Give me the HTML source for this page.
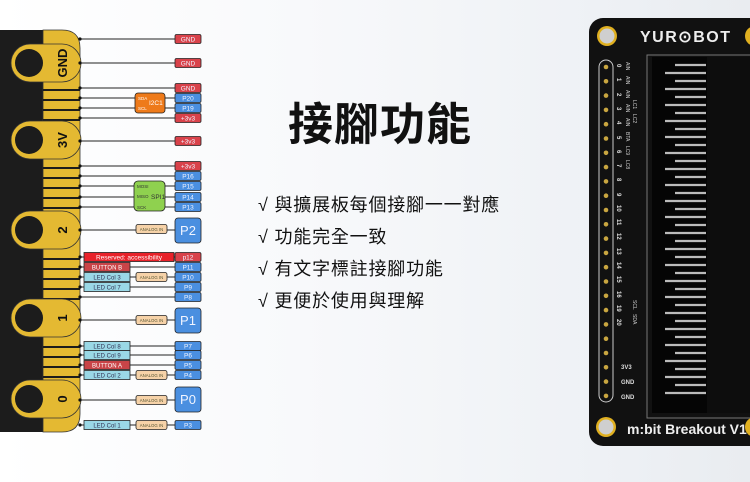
<!DOCTYPE html>
<html><head><meta charset="utf-8"><style>
html,body{margin:0;padding:0}
body{width:750px;height:482px;overflow:hidden;background:linear-gradient(90deg,#fff 0%,#f8f9fb 40%,#eef1f5 80%,#e9ecf0 100%);position:relative;font-family:"Liberation Sans","Noto Sans CJK TC",sans-serif}
.t{position:absolute;left:288px;top:88px;font-size:45px;font-weight:bold;color:#111;letter-spacing:1px;font-family:"Liberation Sans","Noto Sans CJK TC",sans-serif}
.l{position:absolute;left:258px;font-size:18px;letter-spacing:0.8px;color:#111;font-family:"Liberation Sans","Noto Sans CJK TC",sans-serif}
</style></head><body>
<svg width="750" height="482" style="position:absolute;left:0;top:0" font-family="Liberation Sans, sans-serif">
<path d="M0 30 H62 Q80 30 80 48 V414 Q80 432 62 432 H0 Z" fill="#1c1c1c"/>
<path d="M43 30 H62 Q80 30 80 48 V414 Q80 432 62 432 H43 Z" fill="#e4b932" stroke="#333" stroke-width="0.8"/>
<g fill="#1c1c1c">
<rect x="43" y="89" width="37" height="2"/><rect x="43" y="99" width="37" height="2"/><rect x="43" y="109" width="37" height="2"/><rect x="43" y="119" width="37" height="2"/>
<rect x="43" y="167" width="37" height="2"/><rect x="43" y="177" width="37" height="2"/><rect x="43" y="187" width="37" height="2"/><rect x="43" y="197" width="37" height="2"/><rect x="43" y="207" width="37" height="2"/>
<rect x="43" y="258" width="37" height="2"/><rect x="43" y="268" width="37" height="2"/><rect x="43" y="278" width="37" height="2"/><rect x="43" y="288" width="37" height="2"/><rect x="43" y="298" width="37" height="2"/>
<rect x="43" y="346" width="37" height="2"/><rect x="43" y="356" width="37" height="2"/><rect x="43" y="366" width="37" height="2"/><rect x="43" y="376" width="37" height="2"/>
</g>
<g fill="#e4b932" stroke="#333" stroke-width="0.8">
<rect x="11" y="44" width="70" height="38" rx="19"/>
<rect x="11" y="121" width="70" height="38" rx="19"/>
<rect x="11" y="211" width="70" height="38" rx="19"/>
<rect x="11" y="299" width="70" height="38" rx="19"/>
<rect x="11" y="380" width="70" height="38" rx="19"/>
</g>
<g fill="#1c1c1c">
<circle cx="29" cy="63" r="14"/><circle cx="29" cy="140" r="14"/><circle cx="29" cy="230" r="14"/><circle cx="29" cy="318" r="14"/><circle cx="29" cy="399" r="14"/>
</g>
<g font-weight="bold" font-size="13" fill="#111" text-anchor="middle">
<text transform="translate(67,63) rotate(-90)">GND</text>
<text transform="translate(67,140) rotate(-90)">3V</text>
<text transform="translate(67,230) rotate(-90)">2</text>
<text transform="translate(67,318) rotate(-90)">1</text>
<text transform="translate(67,399) rotate(-90)">0</text>
</g>
<g stroke="#222" stroke-width="0.9">
<line x1="80" y1="39" x2="176" y2="39"/><line x1="80" y1="63" x2="176" y2="63"/><line x1="80" y1="88" x2="176" y2="88"/>
<line x1="80" y1="98" x2="176" y2="98"/><line x1="80" y1="108" x2="176" y2="108"/><line x1="80" y1="118" x2="176" y2="118"/>
<line x1="80" y1="141" x2="176" y2="141"/><line x1="80" y1="166" x2="176" y2="166"/><line x1="80" y1="176" x2="176" y2="176"/>
<line x1="80" y1="186" x2="176" y2="186"/><line x1="80" y1="197" x2="176" y2="197"/><line x1="80" y1="207" x2="176" y2="207"/>
<line x1="80" y1="230" x2="176" y2="230"/><line x1="80" y1="257" x2="176" y2="257"/><line x1="80" y1="267" x2="176" y2="267"/>
<line x1="80" y1="277" x2="176" y2="277"/><line x1="80" y1="287" x2="176" y2="287"/><line x1="80" y1="297" x2="176" y2="297"/>
<line x1="80" y1="320" x2="176" y2="320"/><line x1="80" y1="346" x2="176" y2="346"/><line x1="80" y1="355" x2="176" y2="355"/>
<line x1="80" y1="365" x2="176" y2="365"/><line x1="80" y1="375" x2="176" y2="375"/><line x1="80" y1="400" x2="176" y2="400"/>
<line x1="80" y1="425" x2="176" y2="425"/>
</g>
<g fill="#111">
<circle cx="80" cy="39" r="1.6"/><circle cx="80" cy="63" r="1.6"/><circle cx="80" cy="88" r="1.6"/><circle cx="80" cy="98" r="1.6"/><circle cx="80" cy="108" r="1.6"/><circle cx="80" cy="118" r="1.6"/><circle cx="80" cy="141" r="1.6"/><circle cx="80" cy="166" r="1.6"/><circle cx="80" cy="176" r="1.6"/><circle cx="80" cy="186" r="1.6"/><circle cx="80" cy="197" r="1.6"/><circle cx="80" cy="207" r="1.6"/><circle cx="80" cy="230" r="1.6"/><circle cx="80" cy="257" r="1.6"/><circle cx="80" cy="267" r="1.6"/><circle cx="80" cy="277" r="1.6"/><circle cx="80" cy="287" r="1.6"/><circle cx="80" cy="297" r="1.6"/><circle cx="80" cy="320" r="1.6"/><circle cx="80" cy="346" r="1.6"/><circle cx="80" cy="355" r="1.6"/><circle cx="80" cy="365" r="1.6"/><circle cx="80" cy="375" r="1.6"/><circle cx="80" cy="400" r="1.6"/><circle cx="80" cy="425" r="1.6"/>
</g>
<g stroke="#222" stroke-width="0.8" font-size="6.5" text-anchor="middle">
<g fill="#d9424a"><rect x="175" y="34.5" width="26" height="9" rx="1.5"/><rect x="175" y="58.5" width="26" height="9" rx="1.5"/><rect x="175" y="83.5" width="26" height="9" rx="1.5"/><rect x="175" y="113.5" width="26" height="9" rx="1.5"/><rect x="175" y="136.5" width="26" height="9" rx="1.5"/><rect x="175" y="161.5" width="26" height="9" rx="1.5"/><rect x="175" y="252.5" width="26" height="9" rx="1.5"/></g>
<g fill="#4a8fe0"><rect x="175" y="93.5" width="26" height="9" rx="1.5"/><rect x="175" y="103.5" width="26" height="9" rx="1.5"/><rect x="175" y="171.5" width="26" height="9" rx="1.5"/><rect x="175" y="181.5" width="26" height="9" rx="1.5"/><rect x="175" y="192.5" width="26" height="9" rx="1.5"/><rect x="175" y="202.5" width="26" height="9" rx="1.5"/>
<rect x="175" y="262.5" width="26" height="9" rx="1.5"/><rect x="175" y="272.5" width="26" height="9" rx="1.5"/><rect x="175" y="282.5" width="26" height="9" rx="1.5"/><rect x="175" y="292.5" width="26" height="9" rx="1.5"/>
<rect x="175" y="341.5" width="26" height="9" rx="1.5"/><rect x="175" y="350.5" width="26" height="9" rx="1.5"/><rect x="175" y="360.5" width="26" height="9" rx="1.5"/><rect x="175" y="370.5" width="26" height="9" rx="1.5"/><rect x="175" y="420.5" width="26" height="9" rx="1.5"/>
<rect x="175" y="218" width="26" height="25" rx="3"/><rect x="175" y="308" width="26" height="25" rx="3"/><rect x="175" y="387" width="26" height="25" rx="3"/></g>
<g fill="#f0f4ff" stroke="none">
<text x="188" y="41.5">GND</text><text x="188" y="65.5">GND</text><text x="188" y="90.5">GND</text><text x="188" y="100.5">P20</text><text x="188" y="110.5">P19</text><text x="188" y="120.5">+3v3</text><text x="188" y="143.5">+3v3</text><text x="188" y="168.5">+3v3</text><text x="188" y="178.5">P16</text><text x="188" y="188.5">P15</text><text x="188" y="199.5">P14</text><text x="188" y="209.5">P13</text><text x="188" y="259.5">p12</text><text x="188" y="269.5">P11</text><text x="188" y="279.5">P10</text><text x="188" y="289.5">P9</text><text x="188" y="299.5">P8</text><text x="188" y="348.5">P7</text><text x="188" y="357.5">P6</text><text x="188" y="367.5">P5</text><text x="188" y="377.5">P4</text><text x="188" y="427.5">P3</text>
<text x="188" y="235" font-size="13">P2</text><text x="188" y="325" font-size="13">P1</text><text x="188" y="404" font-size="13">P0</text></g>
<rect x="135" y="93" width="30" height="20" rx="3" fill="#ee7a1a"/>
<rect x="134" y="181" width="31" height="30" rx="4" fill="#8fd14f"/>
<rect x="84" y="252.5" width="90" height="9" fill="#e8222a"/>
<g fill="#c94448"><rect x="84" y="262.5" width="46" height="9"/><rect x="84" y="360.5" width="46" height="9"/></g>
<g fill="#9ad8e6"><rect x="84" y="272.5" width="46" height="9"/><rect x="84" y="282.5" width="46" height="9"/><rect x="84" y="341.5" width="46" height="9"/><rect x="84" y="350.5" width="46" height="9"/><rect x="84" y="370.5" width="46" height="9"/><rect x="84" y="420.5" width="46" height="9"/></g>
<g fill="#f6d2a8"><rect x="136" y="224.5" width="31" height="9" rx="2"/><rect x="136" y="272.5" width="31" height="9" rx="2"/><rect x="136" y="315.5" width="31" height="9" rx="2"/><rect x="136" y="370.5" width="31" height="9" rx="2"/><rect x="136" y="395.5" width="31" height="9" rx="2"/><rect x="136" y="420.5" width="31" height="9" rx="2"/></g>
</g>
<g font-size="4.5" fill="#fff">
<text x="138" y="100">SDA</text><text x="138" y="110">SCL</text><text x="149" y="105" font-size="6.5">I2C1</text>
<text x="137" y="188" fill="#333">MOSI</text><text x="137" y="198" fill="#333">MISO</text><text x="137" y="209" fill="#333">SCK</text><text x="151" y="199" font-size="6.5" fill="#333">SPI1</text>
<text x="129" y="259.5" font-size="6.5" text-anchor="middle">Reserved: accessibility</text>
<text x="107" y="269.5" font-size="6" text-anchor="middle">BUTTON B</text><text x="107" y="367.5" font-size="6" text-anchor="middle">BUTTON A</text>
</g>
<g font-size="6" fill="#335" text-anchor="middle">
<text x="107" y="279.5">LED Col 3</text><text x="107" y="289.5">LED Col 7</text><text x="107" y="348.5">LED Col 8</text><text x="107" y="357.5">LED Col 9</text><text x="107" y="377.5">LED Col 2</text><text x="107" y="427.5">LED Col 1</text>
</g>
<g font-size="4.3" fill="#553" text-anchor="middle">
<text x="151.5" y="231">ANALOG IN</text><text x="151.5" y="279">ANALOG IN</text><text x="151.5" y="322">ANALOG IN</text><text x="151.5" y="377">ANALOG IN</text><text x="151.5" y="402">ANALOG IN</text><text x="151.5" y="427">ANALOG IN</text>
</g>
<rect x="589" y="18" width="190" height="428" rx="14" fill="#111"/>
<circle cx="607" cy="36" r="10" fill="#e0b020"/><circle cx="607" cy="36" r="7.5" fill="#cfcfcf"/>
<circle cx="606" cy="427" r="10" fill="#e0b020"/><circle cx="606" cy="427" r="7.5" fill="#cfcfcf"/>
<circle cx="755" cy="36" r="10" fill="#e0b020"/><circle cx="755" cy="427" r="10" fill="#e0b020"/>
<text x="640" y="42" font-size="16" font-weight="bold" fill="#eee" letter-spacing="1.5">YUR⊙BOT</text>
<text x="627" y="434" font-size="14" font-weight="bold" fill="#eee">m:bit Breakout V1</text>
<rect x="647" y="55" width="110" height="363" fill="none" stroke="#777" stroke-width="1"/>
<rect x="652" y="57" width="55" height="356" fill="#050505"/>
<rect x="707" y="57" width="45" height="356" fill="#0d0d0d"/>
<g stroke="#bbb" stroke-width="2.2">
<line x1="675" y1="65" x2="706" y2="65"/><line x1="665" y1="73" x2="706" y2="73"/><line x1="675" y1="81" x2="706" y2="81"/><line x1="665" y1="89" x2="706" y2="89"/><line x1="675" y1="97" x2="706" y2="97"/><line x1="665" y1="105" x2="706" y2="105"/><line x1="675" y1="113" x2="706" y2="113"/><line x1="665" y1="121" x2="706" y2="121"/><line x1="675" y1="129" x2="706" y2="129"/><line x1="665" y1="137" x2="706" y2="137"/><line x1="675" y1="145" x2="706" y2="145"/><line x1="665" y1="153" x2="706" y2="153"/><line x1="675" y1="161" x2="706" y2="161"/><line x1="665" y1="169" x2="706" y2="169"/><line x1="675" y1="177" x2="706" y2="177"/><line x1="665" y1="185" x2="706" y2="185"/><line x1="675" y1="193" x2="706" y2="193"/><line x1="665" y1="201" x2="706" y2="201"/><line x1="675" y1="209" x2="706" y2="209"/><line x1="665" y1="217" x2="706" y2="217"/><line x1="675" y1="225" x2="706" y2="225"/><line x1="665" y1="233" x2="706" y2="233"/><line x1="675" y1="241" x2="706" y2="241"/><line x1="665" y1="249" x2="706" y2="249"/><line x1="675" y1="257" x2="706" y2="257"/><line x1="665" y1="265" x2="706" y2="265"/><line x1="675" y1="273" x2="706" y2="273"/><line x1="665" y1="281" x2="706" y2="281"/><line x1="675" y1="289" x2="706" y2="289"/><line x1="665" y1="297" x2="706" y2="297"/><line x1="675" y1="305" x2="706" y2="305"/><line x1="665" y1="313" x2="706" y2="313"/><line x1="675" y1="321" x2="706" y2="321"/><line x1="665" y1="329" x2="706" y2="329"/><line x1="675" y1="337" x2="706" y2="337"/><line x1="665" y1="345" x2="706" y2="345"/><line x1="675" y1="353" x2="706" y2="353"/><line x1="665" y1="361" x2="706" y2="361"/><line x1="675" y1="369" x2="706" y2="369"/><line x1="665" y1="377" x2="706" y2="377"/><line x1="675" y1="385" x2="706" y2="385"/><line x1="665" y1="393" x2="706" y2="393"/>
</g>
<rect x="599" y="60" width="14" height="342" rx="7" fill="#111" stroke="#ccc" stroke-width="1"/>
<g fill="#c9a640">
<circle cx="606" cy="67" r="2.3"/><circle cx="606" cy="81.3" r="2.3"/><circle cx="606" cy="95.6" r="2.3"/><circle cx="606" cy="109.9" r="2.3"/><circle cx="606" cy="124.2" r="2.3"/><circle cx="606" cy="138.5" r="2.3"/><circle cx="606" cy="152.8" r="2.3"/><circle cx="606" cy="167.1" r="2.3"/><circle cx="606" cy="181.4" r="2.3"/><circle cx="606" cy="195.7" r="2.3"/><circle cx="606" cy="210" r="2.3"/><circle cx="606" cy="224.3" r="2.3"/><circle cx="606" cy="238.6" r="2.3"/><circle cx="606" cy="252.9" r="2.3"/><circle cx="606" cy="267.2" r="2.3"/><circle cx="606" cy="281.5" r="2.3"/><circle cx="606" cy="295.8" r="2.3"/><circle cx="606" cy="310.1" r="2.3"/><circle cx="606" cy="324.4" r="2.3"/><circle cx="606" cy="338.7" r="2.3"/><circle cx="606" cy="353" r="2.3"/><circle cx="606" cy="367.3" r="2.3"/><circle cx="606" cy="381.6" r="2.3"/><circle cx="606" cy="395.9" r="2.3"/>
</g>
<g fill="#ddd" font-size="6" font-weight="bold">
<text transform="translate(617,64) rotate(90)">0</text><text transform="translate(617,78) rotate(90)">1</text><text transform="translate(617,93) rotate(90)">2</text><text transform="translate(617,107) rotate(90)">3</text><text transform="translate(617,121) rotate(90)">4</text><text transform="translate(617,136) rotate(90)">5</text><text transform="translate(617,150) rotate(90)">6</text><text transform="translate(617,164) rotate(90)">7</text><text transform="translate(617,178) rotate(90)">8</text><text transform="translate(617,193) rotate(90)">9</text><text transform="translate(617,205) rotate(90)">10</text><text transform="translate(617,219) rotate(90)">11</text><text transform="translate(617,233) rotate(90)">12</text><text transform="translate(617,248) rotate(90)">13</text><text transform="translate(617,262) rotate(90)">14</text><text transform="translate(617,276) rotate(90)">15</text><text transform="translate(617,291) rotate(90)">16</text><text transform="translate(617,305) rotate(90)">19</text><text transform="translate(617,319) rotate(90)">20</text>
<text x="621" y="369">3V3</text><text x="621" y="384">GND</text><text x="621" y="399">GND</text>
</g>
<g fill="#ccc" font-size="5">
<text transform="translate(626,62) rotate(90)">AIN</text><text transform="translate(626,76) rotate(90)">AIN</text><text transform="translate(626,90) rotate(90)">AIN</text><text transform="translate(626,104) rotate(90)">AIN</text><text transform="translate(626,118) rotate(90)">AIN</text><text transform="translate(626,132) rotate(90)">BTA</text><text transform="translate(626,146) rotate(90)">LC9</text><text transform="translate(626,160) rotate(90)">LC8</text>
<text transform="translate(633,100) rotate(90)">LC1</text><text transform="translate(633,114) rotate(90)">LC2</text><text transform="translate(633,300) rotate(90)">SCL</text><text transform="translate(633,314) rotate(90)">SDA</text>
</g>
</svg>
<div class="t">接腳功能</div>
<div class="l" style="top:191px">√ 與擴展板每個接腳一一對應</div>
<div class="l" style="top:223px">√ 功能完全一致</div>
<div class="l" style="top:255px">√ 有文字標註接腳功能</div>
<div class="l" style="top:287px">√ 更便於使用與理解</div>
</body></html>
